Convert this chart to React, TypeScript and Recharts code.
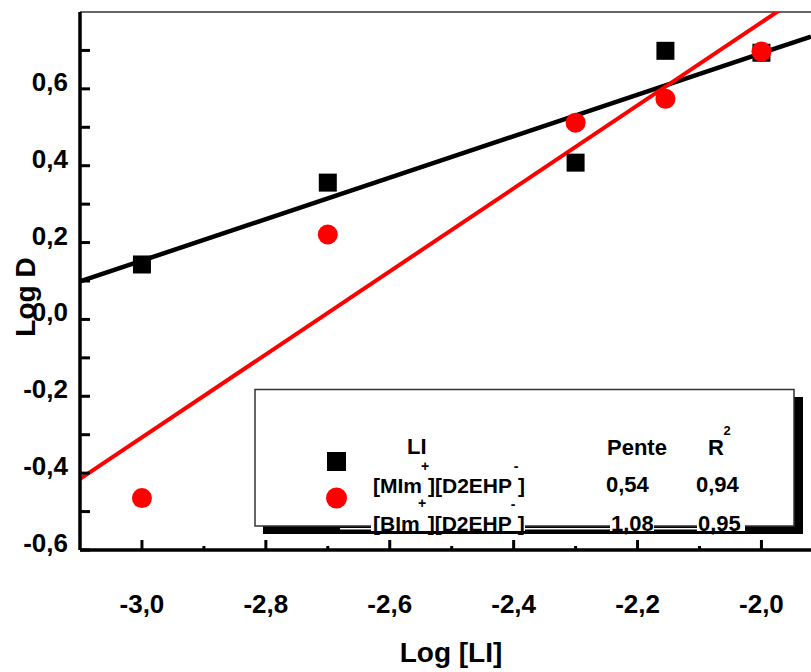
import { ComposedChart, Line, Scatter, XAxis, YAxis, ReferenceLine } from 'recharts';

// log [LI] values where both ionic liquids were measured
const logLI = [-3.0, -2.7, -2.3, -2.155, -2.0];
// log D for [MIm+][D2EHP-] (black squares) and [BIm+][D2EHP-] (red circles)
const mimLogD = [0.143, 0.356, 0.408, 0.699, 0.694];
const bimLogD = [-0.465, 0.221, 0.512, 0.574, 0.697];

// linear fits: slope (Pente) and R² as printed in the legend
const mimFit = { slope: 0.54, intercept: 1.773, r2: '0,94' };
const bimFit = { slope: 1.08, intercept: 2.933, r2: '0,95' };
const fitSpan = [-3.1, -1.92];

const xTicks = [-3.0, -2.9, -2.8, -2.7, -2.6, -2.5, -2.4, -2.3, -2.2, -2.1, -2.0];
const yTicks = [-0.6, -0.5, -0.4, -0.3, -0.2, -0.1, 0, 0.1, 0.2, 0.3, 0.4, 0.5, 0.6, 0.7];

const FONT = '"Liberation Sans", Arial, sans-serif';
const RED = '#ff0000';

const fmt = (v: number) => v.toFixed(1).replace('.', ',');
const fmt2 = (v: number) => v.toFixed(2).replace('.', ',');

const mimPoints = logLI.map((x, i) => ({ x, y: mimLogD[i] }));
const bimPoints = logLI.map((x, i) => ({ x, y: bimLogD[i] }));
const mimLine = fitSpan.map((x) => ({ x, y: mimFit.slope * x + mimFit.intercept }));
const bimLine = fitSpan.map((x) => ({ x, y: bimFit.slope * x + bimFit.intercept }));

const XTick = ({ x, y, payload }: any) => {
  const major = Math.round(payload.value * 10) % 2 === 0;
  return (
    <g>
      <line x1={x} x2={x} y1={y} y2={y - (major ? 10 : 4)} stroke="#000" strokeWidth={3} />
      {major && (
        <text x={x} y={y + 63} textAnchor="middle" fontFamily={FONT} fontWeight="bold" fontSize={26} fill="#000">
          {fmt(payload.value)}
        </text>
      )}
    </g>
  );
};

const YTick = ({ x, y, payload }: any) => {
  const major = Math.round(payload.value * 10) % 2 === 0;
  return (
    <g>
      <line x1={x} x2={x + 10} y1={y} y2={y} stroke="#000" strokeWidth={3} />
      {major && (
        <text x={x - 12} y={y + 2} textAnchor="end" fontFamily={FONT} fontWeight="bold" fontSize={26} fill="#000">
          {fmt(payload.value)}
        </text>
      )}
    </g>
  );
};

const SquareDot = ({ cx, cy }: any) => <rect x={cx - 9} y={cy - 9} width={18} height={18} fill="#000" />;
const RoundDot = ({ cx, cy }: any) => <circle cx={cx} cy={cy} r={10} fill={RED} />;

const txt = { fontFamily: FONT, fontWeight: 'bold' as const, fill: '#000' };

function FitLegend() {
  return (
    <svg width={811} height={672} style={{ position: 'absolute', left: 0, top: 0, pointerEvents: 'none' }}>
      {/* drop shadow */}
      <rect x={794} y={397} width={9} height={137} fill="#000" />
      <rect x={263} y={526} width={540} height={8} fill="#000" />
      <rect x={255} y={389.5} width={539} height={136.5} fill="#fff" stroke="#333" strokeWidth={1.5} />
      <rect x={340} y={528} width={405} height={1.5} fill="#fff" />

      <rect x={327} y={452} width={19} height={19} fill="#000" />
      <circle cx={336.5} cy={498} r={10.5} fill={RED} />

      <text x={407} y={454} fontSize={22} {...txt}>LI</text>
      <text x={607} y={455} fontSize={22} {...txt}>Pente</text>
      <text x={708} y={455} fontSize={22} {...txt}>R</text>
      <text x={727} y={435} fontSize={13} textAnchor="middle" {...txt}>2</text>

      <text x={373} y={493} fontSize={21} {...txt}>
        [MIm<tspan dx={6}>][D2EHP</tspan><tspan dx={6}>]</tspan>
      </text>
      <text x={425} y={471} fontSize={14} textAnchor="middle" {...txt}>+</text>
      <text x={516} y={471} fontSize={14} textAnchor="middle" {...txt}>-</text>
      <text x={606} y={492} fontSize={22} {...txt}>{fmt2(mimFit.slope)}</text>
      <text x={696} y={492} fontSize={22} {...txt}>{mimFit.r2}</text>

      <rect x={371} y={511} width={154} height={20} fill="#fff" />
      <rect x={610} y={511} width={44} height={20} fill="#fff" />
      <rect x={697} y={511} width={48} height={20} fill="#fff" />
      <text x={373} y={531} fontSize={21} {...txt}>
        [BIm<tspan dx={8}>][D2EHP</tspan><tspan dx={6}>]</tspan>
      </text>
      <text x={422} y={508} fontSize={14} textAnchor="middle" {...txt}>+</text>
      <text x={513} y={509} fontSize={14} textAnchor="middle" {...txt}>-</text>
      <text x={611} y={531} fontSize={22} {...txt}>{fmt2(bimFit.slope)}</text>
      <text x={698} y={531} fontSize={22} {...txt}>{bimFit.r2}</text>
    </svg>
  );
}

export default function App() {
  return (
    <div style={{ position: 'relative', width: 811, height: 672, background: '#fff' }}>
      <style>{'body{margin:0}'}</style>
      <ComposedChart width={811} height={672} margin={{ top: 12, right: 0, bottom: 62, left: 10 }}>
        <XAxis
          type="number"
          dataKey="x"
          domain={fitSpan}
          allowDataOverflow
          ticks={xTicks}
          interval={0}
          height={60}
          tickSize={0}
          tickMargin={0}
          tick={<XTick />}
          axisLine={{ stroke: '#000', strokeWidth: 3.5 }}
          tickLine={false}
        />
        <YAxis
          type="number"
          dataKey="y"
          domain={[-0.6, 0.8]}
          allowDataOverflow
          ticks={yTicks}
          interval={0}
          width={70}
          tickSize={0}
          tickMargin={0}
          tick={<YTick />}
          axisLine={{ stroke: '#000', strokeWidth: 3.5 }}
          tickLine={false}
        />
        <ReferenceLine y={0.8} stroke="#333" strokeWidth={1.5} />
        <Scatter data={mimPoints} shape={<SquareDot />} isAnimationActive={false} />
        <Scatter data={bimPoints} shape={<RoundDot />} isAnimationActive={false} />
        <Line data={mimLine} dataKey="y" type="linear" stroke="#000" strokeWidth={4.5} dot={false} activeDot={false} isAnimationActive={false} />
        <Line data={bimLine} dataKey="y" type="linear" stroke={RED} strokeWidth={4} dot={false} activeDot={false} isAnimationActive={false} />
      </ComposedChart>
      <svg width={811} height={672} style={{ position: 'absolute', left: 0, top: 0, pointerEvents: 'none' }}>
        <text x={451} y={662} textAnchor="middle" fontFamily={FONT} fontWeight="bold" fontSize={28} fill="#000">
          Log [LI]
        </text>
        <text
          x={35}
          y={297}
          transform="rotate(-90, 35, 297)"
          textAnchor="middle"
          fontFamily={FONT}
          fontWeight="bold"
          fontSize={28}
          fill="#000"
        >
          Log D
        </text>
      </svg>
      <FitLegend />
    </div>
  );
}
